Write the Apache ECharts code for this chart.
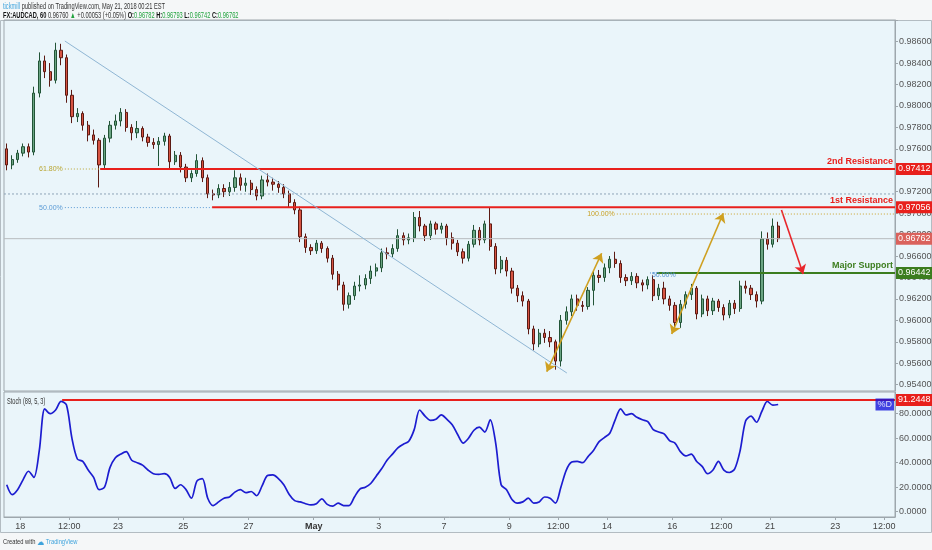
<!DOCTYPE html>
<html>
<head>
<meta charset="utf-8">
<title>AUDCAD 60</title>
<script src="https://cdn.jsdelivr.net/npm/echarts@6/dist/echarts.min.js"></script>
<style>
  html, body { margin: 0; padding: 0; background: #f5f7f8; }
  #chart { width: 932px; height: 550px; }
</style>
</head>
<body>
<div id="chart"></div>
<script>
// ---- data (4h buckets of the 60 min chart) ----
var tradingDays = ['Apr 17', 'Apr 18', 'Apr 19', 'Apr 20', 'Apr 23', 'Apr 24', 'Apr 25', 'Apr 26', 'Apr 27',
  'Apr 30', 'May 1', 'May 2', 'May 3', 'May 4', 'May 7', 'May 8', 'May 9', 'May 10', 'May 11',
  'May 14', 'May 15', 'May 16', 'May 17', 'May 18', 'May 21', 'May 22', 'May 23', 'May 24'];
var hoursOfDay = ['00', '04', '08', '12', '16', '20'];

// [open, close, low, high]
var candles = [
  [0.9760,0.9745,0.9740,0.9765],[0.9745,0.9750,0.9741,0.9754],[0.9750,0.9756,0.9747,0.9759],[0.9756,0.9762,0.9753,0.9765],
  [0.9762,0.9757,0.9752,0.9765],[0.9757,0.9812,0.9754,0.9818],[0.9812,0.9842,0.9808,0.9850],[0.9842,0.9832,0.9826,0.9847],
  [0.9832,0.9824,0.9818,0.9840],[0.9824,0.9852,0.9821,0.9859],[0.9852,0.9845,0.9838,0.9858],[0.9845,0.9810,0.9803,0.9848],
  [0.9810,0.9790,0.9784,0.9815],[0.9790,0.9793,0.9785,0.9798],[0.9793,0.9782,0.9777,0.9795],[0.9782,0.9773,0.9767,0.9786],
  [0.9773,0.9768,0.9764,0.9778],[0.9768,0.9745,0.9724,0.9770],[0.9745,0.9770,0.9742,0.9773],[0.9770,0.9782,0.9766,0.9786],
  [0.9782,0.9786,0.9778,0.9792],[0.9786,0.9794,0.9781,0.9798],[0.9794,0.9780,0.9776,0.9797],[0.9780,0.9775,0.9768,0.9783],
  [0.9775,0.9779,0.9770,0.9786],[0.9779,0.9771,0.9767,0.9781],[0.9771,0.9766,0.9762,0.9774],[0.9766,0.9764,0.9760,0.9770],
  [0.9764,0.9767,0.9744,0.9771],[0.9767,0.9772,0.9763,0.9775],[0.9772,0.9748,0.9741,0.9774],[0.9748,0.9754,0.9745,0.9758],
  [0.9754,0.9743,0.9738,0.9757],[0.9743,0.9733,0.9729,0.9746],[0.9733,0.9737,0.9729,0.9740],[0.9737,0.9749,0.9734,0.9755],
  [0.9749,0.9733,0.9729,0.9752],[0.9733,0.9718,0.9714,0.9736],[0.9718,0.9717,0.9712,0.9722],[0.9717,0.9723,0.9714,0.9727],
  [0.9723,0.9720,0.9715,0.9727],[0.9720,0.9724,0.9716,0.9729],[0.9724,0.9733,0.9720,0.9740],[0.9733,0.9726,0.9721,0.9737],
  [0.9726,0.9728,0.9720,0.9733],[0.9728,0.9722,0.9717,0.9731],[0.9722,0.9716,0.9712,0.9725],[0.9716,0.9731,0.9713,0.9735],
  [0.9731,0.9729,0.9725,0.9737],[0.9729,0.9727,0.9721,0.9733],[0.9727,0.9724,0.9719,0.9730],[0.9724,0.9718,0.9714,0.9727],
  [0.9718,0.9710,0.9705,0.9721],[0.9710,0.9703,0.9699,0.9713],[0.9703,0.9678,0.9673,0.9706],[0.9678,0.9668,0.9663,0.9681],
  [0.9668,0.9665,0.9661,0.9671],[0.9665,0.9672,0.9662,0.9675],[0.9672,0.9667,0.9663,0.9674],[0.9667,0.9658,0.9654,0.9669],
  [0.9658,0.9643,0.9638,0.9661],[0.9643,0.9633,0.9628,0.9646],[0.9633,0.9615,0.9609,0.9636],[0.9615,0.9623,0.9611,0.9626],
  [0.9623,0.9632,0.9619,0.9636],[0.9632,0.9633,0.9627,0.9642],[0.9633,0.9639,0.9629,0.9643],[0.9639,0.9646,0.9634,0.9651],
  [0.9646,0.9649,0.9641,0.9653],[0.9649,0.9663,0.9645,0.9667],[0.9663,0.9662,0.9657,0.9668],[0.9662,0.9667,0.9659,0.9671],
  [0.9667,0.9679,0.9664,0.9685],[0.9679,0.9675,0.9670,0.9682],[0.9675,0.9677,0.9671,0.9681],[0.9677,0.9696,0.9673,0.9701],
  [0.9696,0.9688,0.9683,0.9702],[0.9688,0.9679,0.9674,0.9690],[0.9679,0.9690,0.9675,0.9693],[0.9690,0.9685,0.9680,0.9692],
  [0.9685,0.9688,0.9681,0.9691],[0.9688,0.9677,0.9670,0.9690],[0.9677,0.9672,0.9666,0.9682],[0.9672,0.9664,0.9660,0.9675],
  [0.9664,0.9658,0.9653,0.9667],[0.9658,0.9671,0.9655,0.9674],[0.9671,0.9684,0.9668,0.9689],[0.9684,0.9675,0.9670,0.9687],
  [0.9675,0.9690,0.9672,0.9693],[0.9690,0.9669,0.9665,0.9705],[0.9669,0.9648,0.9643,0.9672],[0.9648,0.9656,0.9644,0.9660],
  [0.9656,0.9646,0.9641,0.9659],[0.9646,0.9630,0.9625,0.9649],[0.9630,0.9623,0.9617,0.9633],[0.9623,0.9618,0.9613,0.9627],
  [0.9618,0.9592,0.9587,0.9620],[0.9592,0.9578,0.9572,0.9595],[0.9578,0.9588,0.9575,0.9592],[0.9588,0.9584,0.9579,0.9592],
  [0.9584,0.9580,0.9575,0.9590],[0.9580,0.9562,0.9554,0.9582],[0.9562,0.9600,0.9557,0.9605],[0.9600,0.9608,0.9596,0.9613],
  [0.9608,0.9620,0.9604,0.9624],[0.9620,0.9614,0.9609,0.9624],[0.9614,0.9613,0.9608,0.9618],[0.9613,0.9628,0.9610,0.9631],
  [0.9628,0.9642,0.9614,0.9646],[0.9642,0.9640,0.9635,0.9647],[0.9640,0.9649,0.9636,0.9653],[0.9649,0.9657,0.9644,0.9660],
  [0.9657,0.9653,0.9649,0.9664],[0.9653,0.9640,0.9635,0.9656],[0.9640,0.9637,0.9632,0.9643],[0.9637,0.9641,0.9633,0.9645],
  [0.9641,0.9635,0.9630,0.9644],[0.9635,0.9633,0.9627,0.9638],[0.9633,0.9638,0.9629,0.9641],[0.9638,0.9623,0.9618,0.9642],
  [0.9623,0.9630,0.9619,0.9634],[0.9630,0.9620,0.9615,0.9636],[0.9620,0.9614,0.9609,0.9623],[0.9614,0.9598,0.9592,0.9617],
  [0.9598,0.9615,0.9593,0.9619],[0.9615,0.9624,0.9611,0.9627],[0.9624,0.9630,0.9619,0.9634],[0.9630,0.9606,0.9601,0.9632],
  [0.9606,0.9620,0.9603,0.9624],[0.9620,0.9609,0.9604,0.9623],[0.9609,0.9618,0.9605,0.9621],[0.9618,0.9612,0.9608,0.9620],
  [0.9612,0.9605,0.9600,0.9615],[0.9605,0.9616,0.9602,0.9619],[0.9616,0.9611,0.9606,0.9619],[0.9611,0.9632,0.9608,0.9637],
  [0.9632,0.9630,0.9625,0.9637],[0.9630,0.9624,0.9619,0.9633],[0.9624,0.9618,0.9612,0.9627],[0.9618,0.9676,0.9615,0.9683],
  [0.9676,0.9671,0.9666,0.9682],[0.9671,0.9688,0.9668,0.9695],[0.9688,0.96762,0.9673,0.9692]
];

// Stoch (89, 5, 3) %D, one value per candle
var stochD = [
  22, 14, 18, 26, 33, 28, 50, 84, 80, 83,
  90, 87, 60, 43, 41, 34, 28, 18, 20, 36,
  44, 47, 49, 42, 40, 38, 34, 31, 30.5, 31,
  28, 19, 22, 18, 11, 25, 27, 11, 5, 8,
  11, 12, 16, 18, 15.5, 16.5, 13, 21, 29.5, 30,
  27, 22, 14, 9, 8, 6.5, 5.5, 6.5, 10.5, 6,
  4.5, 7, 5, 5, 12, 18.5, 20, 23, 29, 35,
  42, 47, 52, 55, 57.5, 67, 83, 78, 74.5, 75.5,
  79, 75.5, 71, 63, 56, 60, 66.5, 69, 65, 75,
  56, 22, 18, 10, 7, 8, 11, 7, 8, 12,
  11, 7, 20, 34, 40.5, 41, 40, 45, 50, 57,
  60.5, 64, 75, 84, 79, 80, 77, 75, 73.5, 67,
  65, 63.5, 58, 56, 49, 45.5, 47, 41, 37, 31,
  34, 41, 34, 32, 35, 50, 74, 78, 73, 82,
  90, 87, 87.5
];

// time axis labels, position in candle units
var tickPos = [2.5, 11.5, 20.5, 32.5, 44.5, 56.5, 68.5, 80.5, 92.5, 101.5, 110.5, 122.5, 131.5, 140.5, 152.5, 161.5];
var tickText = ['18', '12:00', '23', '25', '27', 'May', '3', '7', '9', '12:00', '14', '16', '12:00', '21', '23', '12:00'];

// drawn levels
var levelNames = ['2nd Resistance', '1st Resistance', 'Major Support'];
var levelPrices = [0.97412, 0.97056, 0.96442];
var levelFrom = [17.2, 37.8, 119.7];
var lastPrice = 0.96762;
var midDotted = 0.97179;

var fibText = ['61.80%', '50.00%', '100.00%', '50.00%'];
var fibPrices = [0.97412, 0.97052, 0.96992, 0.96442];
var fibFrom = [10.7, 10.7, 112.3, 118.4];
var fibTo = [17.2, 37.8, 163.5, 119.7];

var trendLine = [[10.7, 0.98606], [103.1, 0.95509]];
var upArrows = [
  [[99.4, 0.95521], [109.5, 0.96626]],
  [[122.4, 0.95873], [131.9, 0.96999]]
];
var downArrow = [[142.6, 0.97030], [146.6, 0.96433]];

var stochLevel = 91.2448;
var stochLevelFrom = 10.2;

var quoteLast = '0.96760';
var quoteChange = '+0.00053 (+0.05%)';
var quoteOHLC = ['0.96782', '0.96793', '0.96742', '0.96762'];

// ---- build ----
var FONT = "'Liberation Sans', Arial, sans-serif";
var categories = [];
tradingDays.forEach(function (d) {
  hoursOfDay.forEach(function (h) { categories.push(d + ' ' + h + ':00'); });
});
categories = categories.slice(3, 167);
var xEnd = categories.length - 0.5;

var RED = '#e8201c', GREEN = '#3c7d1e';
var levelColors = [RED, RED, GREEN];
var fibColors = ['#b9a632', '#5b9bd5', '#c9a227', '#4f8fd0'];
var fibSide = ['left', 'left', 'left', 'right'];

var series = [];

series.push({
  type: 'candlestick', xAxisIndex: 0, yAxisIndex: 0, data: candles, barWidth: '50%',
  itemStyle: { color: '#6ba583', color0: '#d75442', borderColor: '#225437', borderColor0: '#5b1a13', borderWidth: 1 }
});

series.push({
  type: 'line', xAxisIndex: 2, yAxisIndex: 1, data: stochD, smooth: 0.3, symbol: 'none',
  lineStyle: { color: '#1c1cd0', width: 1.7 }
});

function boxLabel(text, bg) {
  return { show: true, formatter: text, color: '#fff', backgroundColor: bg, padding: [2, 2, 1, 2],
    fontSize: 9, fontFamily: FONT, distance: 1 };
}

// full width thin lines
series.push({
  type: 'line', xAxisIndex: 1, yAxisIndex: 0, silent: true, symbolSize: 0, z: 3,
  lineStyle: { color: '#8ea4b8', width: 1, type: [2, 2] },
  data: [[-0.5, midDotted], [xEnd, midDotted]]
});
series.push({
  type: 'line', xAxisIndex: 1, yAxisIndex: 0, silent: true, symbolSize: 0, z: 3,
  lineStyle: { color: '#b8bcbf', width: 1 },
  data: [[-0.5, lastPrice], [xEnd, lastPrice]],
  endLabel: boxLabel(lastPrice.toFixed(5), '#da625c')
});

// fib dotted lines with their percent tags
fibText.forEach(function (t, i) {
  series.push({
    type: 'line', xAxisIndex: 1, yAxisIndex: 0, silent: true, symbolSize: 0, z: 5,
    lineStyle: { color: fibColors[i], width: 1, type: [1, 2] },
    data: [
      { value: [fibFrom[i], fibPrices[i]],
        label: { show: true, position: fibSide[i], distance: 2, offset: [0, fibSide[i] === 'right' ? 2 : 0],
          formatter: t, color: fibColors[i], fontSize: 7, fontFamily: FONT } },
      [fibTo[i], fibPrices[i]]
    ]
  });
});

// support / resistance levels
levelNames.forEach(function (n, i) {
  series.push({
    type: 'line', xAxisIndex: 1, yAxisIndex: 0, silent: true, symbolSize: 0, z: 4,
    lineStyle: { color: levelColors[i], width: 2 },
    data: [
      [levelFrom[i], levelPrices[i]],
      { value: [xEnd, levelPrices[i]],
        label: { show: true, position: 'left', distance: 2, offset: [0, -7], formatter: n,
          color: levelColors[i], fontWeight: 'bold', fontSize: 9, fontFamily: FONT } }
    ],
    endLabel: boxLabel(levelPrices[i].toFixed(5), levelColors[i])
  });
});

// trend line and arrows
function seg(p, color, startSym, endSym) {
  return [
    { coord: p[0], symbol: startSym, lineStyle: { color: color, width: 1.6, type: 'solid' } },
    { coord: p[1], symbol: endSym }
  ];
}
series.push({
  type: 'line', xAxisIndex: 1, yAxisIndex: 0, data: [], z: 6,
  markLine: {
    silent: true, animation: false, symbolSize: 9, label: { show: false },
    data: [
      [{ coord: trendLine[0], symbol: 'none', lineStyle: { color: '#8fb6d4', width: 1, type: 'solid' } },
       { coord: trendLine[1], symbol: 'none' }],
      seg(upArrows[0], '#cfa020', 'arrow', 'arrow'),
      seg(upArrows[1], '#cfa020', 'arrow', 'arrow'),
      seg(downArrow, '#e8262b', 'none', 'arrow')
    ]
  }
});

// stoch level and %D tag
series.push({
  type: 'line', xAxisIndex: 3, yAxisIndex: 1, silent: true, symbolSize: 0, z: 3,
  lineStyle: { color: RED, width: 2 },
  data: [[stochLevelFrom, stochLevel], [xEnd, stochLevel]],
  endLabel: boxLabel(stochLevel.toFixed(4), RED)
});
series.push({
  type: 'scatter', xAxisIndex: 3, yAxisIndex: 1, silent: true, symbolSize: 0, z: 6,
  data: [[xEnd, stochD[stochD.length - 1]]],
  label: { show: true, position: 'left', distance: 1, formatter: '%D', color: '#fff',
    backgroundColor: '#1515dc', padding: [2, 2, 1, 2], fontSize: 9, fontFamily: FONT }
});

// condensed small print (header, footer, study title)
function smallText(x, y, text, rich, size, sx) {
  return { type: 'text', x: x, y: y, scaleX: sx, z: 10,
    style: { text: text, fontSize: size, fontFamily: FONT, fill: '#333', verticalAlign: 'top', rich: rich } };
}

var axisGray = '#9ea7ad';
function hiddenX(type, grid) {
  return type === 'category'
    ? { type: 'category', gridIndex: grid, data: categories, show: false, axisLine: { onZero: false } }
    : { type: 'value', gridIndex: grid, min: -0.5, max: xEnd, show: false, axisLine: { onZero: false } };
}

var option = {
  animation: false,
  backgroundColor: '#eaf5fa',
  textStyle: { fontFamily: FONT },
  graphic: [
    { type: 'rect', shape: { x: 0, y: 0, width: 932, height: 20 }, style: { fill: '#f5f7f8' }, z: -10 },
    { type: 'rect', shape: { x: 0, y: 533, width: 932, height: 17 }, style: { fill: '#f5f7f8' }, z: -10 },
    { type: 'rect', shape: { x: 0.5, y: 20.5, width: 931, height: 512 }, style: { fill: null, stroke: '#b3bcc2', lineWidth: 1 }, z: -9 },
    smallText(3, 2, '{a|tickmill} published on TradingView.com, May 21, 2018 00:21 EST',
      { a: { fill: '#3ea3dc', fontSize: 8.5, fontFamily: FONT } }, 8.5, 0.67),
    smallText(3, 11, '{b|FX:AUDCAD, 60} ' + quoteLast + ' {g|\u25B2} ' + quoteChange + ' {b|O:}{g|' + quoteOHLC[0] +
        '} {b|H:}{g|' + quoteOHLC[1] + '} {b|L:}{g|' + quoteOHLC[2] + '} {b|C:}{g|' + quoteOHLC[3] + '}',
      { b: { fontWeight: 'bold', fontSize: 8.5, fill: '#111', fontFamily: FONT },
        g: { fill: '#22a33e', fontSize: 8.5, fontFamily: FONT } }, 8.5, 0.67),
    smallText(7, 397, 'Stoch (89, 5, 3)', {}, 8.5, 0.66),
    smallText(3, 537, 'Created with {l|\u2601} {a|TradingView}',
      { a: { fill: '#3ea3dc', fontSize: 8, fontFamily: FONT }, l: { fill: '#3ea3dc', fontSize: 10 } }, 8, 0.72)
  ],
  grid: [
    { left: 4, right: 37, top: 20, height: 371, outerBoundsMode: 'none', containLabel: false,
      show: true, borderColor: axisGray, borderWidth: 1, backgroundColor: 'transparent' },
    { left: 4, right: 37, top: 392, height: 125, outerBoundsMode: 'none', containLabel: false,
      show: true, borderColor: axisGray, borderWidth: 1, backgroundColor: 'transparent' }
  ],
  xAxis: [
    hiddenX('category', 0),
    hiddenX('value', 0),
    hiddenX('category', 1),
    { type: 'value', gridIndex: 1, min: -0.5, max: xEnd, position: 'bottom',
      axisLine: { show: true, onZero: false, lineStyle: { color: axisGray } },
      axisTick: { show: true, length: 3, customValues: tickPos, lineStyle: { color: axisGray } },
      splitLine: { show: false },
      axisLabel: { customValues: tickPos, margin: 5, fontSize: 9, color: '#444', fontFamily: FONT,
        formatter: function (v) {
          var k = tickPos.indexOf(v);
          if (k < 0) { return ''; }
          return tickText[k] === 'May' ? '{m|May}' : tickText[k];
        },
        rich: { m: { fontWeight: 'bold', fontSize: 9, color: '#333', fontFamily: FONT } } } }
  ],
  yAxis: [
    { type: 'value', gridIndex: 0, position: 'right', min: 0.95341, max: 0.98802, scale: true,
      splitNumber: 17, minInterval: 0.002, maxInterval: 0.002,
      axisLine: { show: true, onZero: false, lineStyle: { color: axisGray } },
      axisTick: { show: true, length: 3, lineStyle: { color: axisGray } },
      splitLine: { show: false },
      axisLabel: { showMinLabel: false, showMaxLabel: false, margin: 4, fontSize: 9, color: '#555', fontFamily: FONT,
        formatter: function (v) { return v > 0.9865 ? '' : v.toFixed(5); } } },
    { type: 'value', gridIndex: 1, position: 'right', min: -4.33, max: 97.7,
      splitNumber: 5, minInterval: 20, maxInterval: 20,
      axisLine: { show: true, onZero: false, lineStyle: { color: axisGray } },
      axisTick: { show: true, length: 3, lineStyle: { color: axisGray } },
      splitLine: { show: false },
      axisLabel: { showMinLabel: false, showMaxLabel: false, margin: 4, fontSize: 9, color: '#555', fontFamily: FONT,
        formatter: function (v) { return v < 0 || v > 90 ? '' : v.toFixed(4); } } }
  ],
  series: series
};

var myChart = echarts.init(document.getElementById('chart'));
myChart.setOption(option);
</script>
</body>
</html>
